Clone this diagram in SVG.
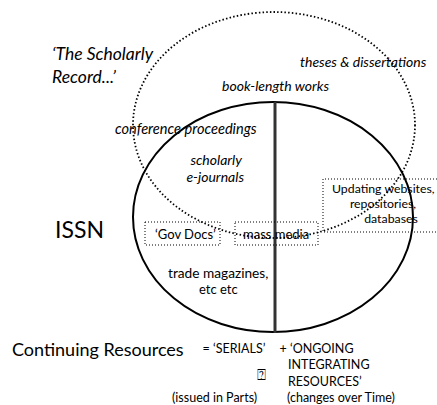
<svg xmlns="http://www.w3.org/2000/svg" width="437" height="405" viewBox="0 0 437 405">
<style>
text{font-family:Lato,"Liberation Sans",sans-serif;fill:#000}
.it{font-style:italic;font-size:14px}
.rg{font-size:13px}
.sm{font-size:12.5px}
.dot{fill:none;stroke:#000;stroke-width:1.8;stroke-dasharray:1.5 2.2}
.box{fill:none;stroke:#000;stroke-width:1;stroke-dasharray:1 2}
.sol{fill:none;stroke:#000;stroke-width:2}
</style>
<rect width="437" height="405" fill="#fff"/>
<g id="scholarly-record">
<ellipse class="dot" cx="274" cy="125" rx="141" ry="113"/>
<text class="it" style="font-size:17.5px" x="52" y="60">‘The Scholarly</text>
<text class="it" style="font-size:17.5px" x="52" y="83">Record...’</text>
</g>
<g id="issn">
<ellipse class="sol" cx="273" cy="217" rx="140" ry="115"/>
<text x="55" y="238" style="font-size:23px">ISSN</text>
</g>
<g id="connectors">
<line x1="275" y1="102" x2="275" y2="333" stroke="#333" stroke-width="3"/>
</g>
<g id="theses"><text class="it" x="300" y="67">theses &amp; dissertations</text></g>
<g id="book-length"><text class="it" x="222" y="91">book-length works</text></g>
<g id="conference"><text class="it" style="font-size:14.6px" x="115" y="134">conference proceedings</text></g>
<g id="e-journals">
<text class="it" x="242" y="165" text-anchor="end">scholarly</text>
<text class="it" x="244" y="182" text-anchor="end">e-journals</text>
</g>
<g id="gov-docs">
<rect class="box" x="145" y="222" width="75" height="23"/>
<text class="rg" x="155" y="239">‘Gov Docs’</text>
</g>
<g id="mass-media">
<rect class="box" x="235" y="222" width="83" height="23"/>
<text class="rg" x="243" y="239">mass media</text>
</g>
<g id="updating">
<path class="box" d="M440 179 H323 V232 H440"/>
<text class="rg" style="font-size:12.3px" x="332" y="193">Updating websites,</text>
<text class="rg" style="font-size:12.3px" x="383" y="208" text-anchor="middle">repositories,</text>
<text class="rg" style="font-size:12.3px" x="391" y="223" text-anchor="middle">databases</text>
</g>
<g id="trade">
<text class="rg" style="font-size:13.7px" x="168" y="278">trade magazines,</text>
<text class="rg" x="199" y="294">etc etc</text>
</g>
<g id="continuing">
<text x="12" y="356" style="font-size:18px">Continuing Resources</text>
<text class="sm" x="206" y="353" text-anchor="middle">=</text>
<text class="sm" x="213" y="353">‘SERIALS’</text>
<text class="sm" x="283" y="353" text-anchor="middle">+</text>
<text class="sm" x="290" y="353">‘ONGOING</text>
<text class="sm" x="288" y="369">INTEGRATING</text>
<text class="sm" x="288" y="386">RESOURCES’</text>
<text class="sm" x="287" y="402">(changes over Time)</text>
<text class="sm" x="172" y="402">(issued in Parts)</text>
<text x="257" y="380" style="font-size:15px;font-family:'DejaVu Sans',sans-serif">⍰</text>
</g>
</svg>
